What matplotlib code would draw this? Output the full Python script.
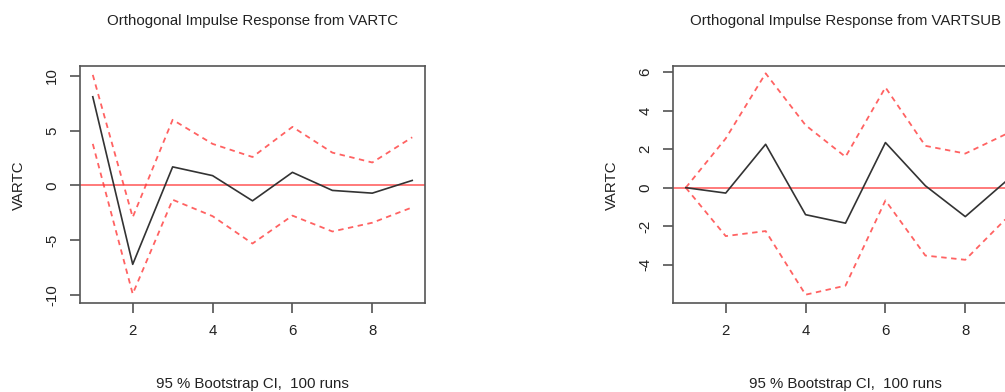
import numpy as np
import matplotlib
matplotlib.use('Agg')
import matplotlib.pyplot as plt

plt.rcParams['font.family'] = ['Liberation Sans', 'DejaVu Sans']

# horizon steps
steps = [1, 2, 3, 4, 5, 6, 7, 8, 9]

# response of VARTC to VARTC shock
irf_tc = [8.1, -7.2, 1.7, 0.9, -1.4, 1.2, -0.45, -0.7, 0.46]
upper_tc = [10.1, -2.9, 6.0, 3.8, 2.6, 5.35, 3.0, 2.1, 4.4]
lower_tc = [3.8, -9.9, -1.3, -2.8, -5.3, -2.75, -4.2, -3.4, -2.0]

# response of VARTC to VARTSUB shock
irf_sub = [0.0, -0.28, 2.25, -1.4, -1.84, 2.34, 0.1, -1.5, 0.3]
upper_sub = [0.0, 2.55, 5.93, 3.24, 1.6, 5.2, 2.17, 1.77, 2.76]
lower_sub = [0.0, -2.51, -2.25, -5.55, -5.08, -0.66, -3.52, -3.74, -1.65]

xticks = [2, 4, 6, 8]
yticks_tc = [-10, -5, 0, 5, 10]
yticks_sub = [-4, -2, 0, 2, 4, 6]

W, H = 1005, 392
fig = plt.figure(figsize=(W / 100, H / 100), dpi=100)
fig.patch.set_facecolor('white')

panels = [
    dict(left=80, title='Orthogonal Impulse Response from VARTC',
         irf=irf_tc, up=upper_tc, lo=lower_tc, yt=yticks_tc, ylim=(-10.73, 10.91)),
    dict(left=673, title='Orthogonal Impulse Response from VARTSUB',
         irf=irf_sub, up=upper_sub, lo=lower_sub, yt=yticks_sub, ylim=(-5.98, 6.31)),
]

box_w, top, bot = 345, 66, 303
for p in panels:
    ax = fig.add_axes([p['left'] / W, 1 - bot / H, box_w / W, (bot - top) / H])
    ax.axhline(0, color='#ff3030', alpha=0.75, lw=1.2, zorder=1)
    ax.plot(steps, p['up'], color='#ff3b3b', alpha=0.8, lw=1.3, ls=(0, (3, 2.5)), zorder=2)
    ax.plot(steps, p['lo'], color='#ff3b3b', alpha=0.8, lw=1.3, ls=(0, (3, 2.5)), zorder=2)
    ax.plot(steps, p['irf'], color='#333333', lw=1.2, zorder=3)
    ax.set_xlim(0.68, 9.32)
    ax.set_ylim(*p['ylim'])
    ax.set_xticks(xticks)
    ax.set_yticks(p['yt'])
    ax.set_yticklabels([str(v) for v in p['yt']], rotation=90, va='center')
    ax.tick_params(axis='both', direction='out', length=7, width=1.1,
                   color='#444444', labelsize=10.8, labelcolor='#222222', pad=8)
    for s in ax.spines.values():
        s.set_color('#555555')
        s.set_linewidth(1.2)
    cx = (p['left'] + box_w / 2) / W
    fig.text(cx, 1 - 21 / H, p['title'], ha='center', va='center',
             fontsize=10.8, color='#222222')
    fig.text(cx, 1 - 384 / H, '95 % Bootstrap CI,  100 runs', ha='center',
             va='center', fontsize=10.8, color='#222222')
    fig.text((p['left'] - 61) / W, 1 - 185 / H, 'VARTC', rotation=90,
             ha='center', va='center', fontsize=10.8, color='#222222')

fig.savefig('out.png', dpi=100, facecolor='white')
